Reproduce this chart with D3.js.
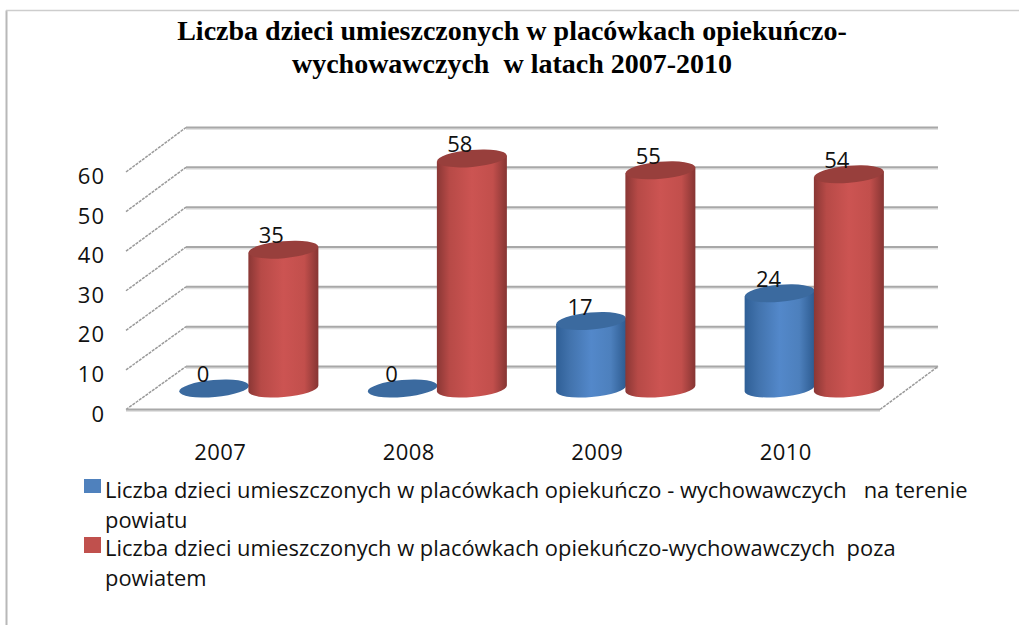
<!DOCTYPE html>
<html><head><meta charset="utf-8">
<style>html,body{margin:0;padding:0;background:#fff;overflow:hidden}svg{display:block}</style>
<script src="https://cdn.jsdelivr.net/npm/d3@7"></script></head>
<body><svg id="c" width="1019" height="625"></svg>
<script>
const categories = ["2007","2008","2009","2010"];
const inside = [0,0,17,24];
const outside = [35,58,55,54];
const yTicks = [0,10,20,30,40,50,60];
const titleLines = ["Liczba dzieci umieszczonych w placówkach opiekuńczo-","wychowawczych  w latach 2007-2010"];
const legendLines = [["Liczba dzieci umieszczonych w placówkach opiekuńczo - wychowawczych   na terenie","powiatu"],["Liczba dzieci umieszczonych w placówkach opiekuńczo-wychowawczych  poza","powiatem"]];

const svg = d3.select("#c");
const defs = svg.append("defs");
function grad(id, stops){
  const g = defs.append("linearGradient").attr("id",id).attr("x1",0).attr("x2",1).attr("y1",0).attr("y2",0);
  stops.forEach(s=>g.append("stop").attr("offset",s[0]).attr("stop-color",s[1]));
}
grad("gb",[[0,"#2f5f96"],[0.2,"#4273ad"],[0.5,"#5388ca"],[0.78,"#4d80bd"],[1,"#2d5b90"]]);
grad("gr",[[0,"#8a3735"],[0.18,"#b74a47"],[0.5,"#cc5452"],[0.8,"#c24f4c"],[1,"#863533"]]);
const font = "'Open Sans',sans-serif";

// frame
svg.append("path").attr("d","M6.5,625V10.5").attr("fill","none").attr("stroke","#b8b8b8").attr("stroke-width",2);
svg.append("path").attr("d","M6,10.5H1019").attr("fill","none").attr("stroke","#cdcdcd").attr("stroke-width",1.6);

// title
svg.append("g").selectAll("text").data(titleLines).join("text")
  .attr("x",512).attr("y",(d,i)=>40+i*33).attr("text-anchor","middle").attr("xml:space","preserve")
  .attr("font-family","'Liberation Serif',serif").attr("font-weight","bold").attr("font-size",28).attr("fill","#000").text(d=>d);

// scales
const yBack = d3.scaleLinear().domain([0,60]).range([366.5,127.5]);
const yFront = d3.scaleLinear().domain([0,60]).range([409.5,172]);
const yBase = d3.scaleLinear().domain([0,60]).range([388.5,150.5]);
const xGroup = d3.scaleBand().domain(categories).range([125,879]);
const xSeries = d3.scaleBand().domain([0,1]).range([0,138.5]);
const groupOffset = 56.5;
const backL = 186, backR = 938, frontL = 126, frontR = 880;

// grid
const grid = svg.append("g");
grid.selectAll("line.s").data(yTicks).join("line").attr("class","s")
  .attr("x1",backL).attr("x2",backR).attr("y1",d=>yBack(d)+1.5).attr("y2",d=>yBack(d)+1.5)
  .attr("stroke","#e2e2e2").attr("stroke-width",2);
grid.selectAll("line.h").data(yTicks).join("line").attr("class","h")
  .attr("x1",backL).attr("x2",backR).attr("y1",d=>yBack(d)).attr("y2",d=>yBack(d))
  .attr("stroke","#a8a8a8").attr("stroke-width",2);
grid.selectAll("line.d").data(yTicks).join("line").attr("class","d")
  .attr("x1",frontL).attr("x2",backL).attr("y1",d=>yFront(d)).attr("y2",d=>yBack(d))
  .attr("stroke","#9a9a9a").attr("stroke-width",1.5).attr("stroke-dasharray","3 1");
grid.append("line").attr("x1",frontL).attr("x2",frontR).attr("y1",yFront(0)+1.5).attr("y2",yFront(0)+1.5).attr("stroke","#e2e2e2").attr("stroke-width",2);
grid.append("line").attr("x1",frontL).attr("x2",frontR).attr("y1",yFront(0)).attr("y2",yFront(0)).attr("stroke","#a8a8a8").attr("stroke-width",2);
grid.append("line").attr("x1",frontR).attr("x2",backR).attr("y1",yFront(0)).attr("y2",yBack(0)).attr("stroke","#9a9a9a").attr("stroke-width",1.5).attr("stroke-dasharray","3 1");

// y labels
svg.append("g").selectAll("text").data(yTicks).join("text")
  .attr("x",105).attr("y",d=>yFront(d)+12).attr("text-anchor","end")
  .attr("font-family",font).attr("font-size",22).attr("letter-spacing",1).attr("fill","#111").text(d=>d);

// cylinders
const rx = 35, ry = 8.5, tilt = -5;
function cyl(g,cx,v,fill,top){
  const yb = yBase(0), yt = yBase(v);
  if(v>0){
    g.append("path").attr("d",`M${cx-rx},${yb+3}V${yt+3}L${cx+rx},${yt-3}V${yb-3}A${rx},${ry} ${tilt} 0 1 ${cx-rx},${yb+3}Z`).attr("fill",`url(#${fill})`);
  }
  g.append("ellipse").attr("cx",cx).attr("cy",yt).attr("rx",rx).attr("ry",ry)
    .attr("transform",`rotate(${tilt} ${cx} ${yt})`).attr("fill",top);
}
const data = categories.map((c,i)=>({c,a:inside[i],b:outside[i]}));
const bars = svg.append("g");
data.forEach(d=>{
  const x0 = xGroup(d.c)+groupOffset-2;
  const g = bars.append("g");
  cyl(g,x0+xSeries(0)+xSeries.bandwidth()/2,d.a,"gb","#3b6a9f");
  cyl(g,x0+xSeries(1)+xSeries.bandwidth()/2,d.b,"gr","#983f3c");
});
// value labels
const labels = svg.append("g").attr("font-family",font).attr("font-size",22).attr("text-anchor","middle").attr("fill","#111");
data.forEach(d=>{
  const x0 = xGroup(d.c)+groupOffset-2;
  labels.append("text").attr("x",x0+xSeries(0)+xSeries.bandwidth()/2-11).attr("y",yBase(d.a)-6.5).text(d.a);
  labels.append("text").attr("x",x0+xSeries(1)+xSeries.bandwidth()/2-12).attr("y",yBase(d.b)-6.5).text(d.b);
});
// category labels
svg.append("g").selectAll("text").data(categories).join("text")
  .attr("x",d=>xGroup(d)+xGroup.bandwidth()/2+1).attr("y",460).attr("text-anchor","middle")
  .attr("font-family",font).attr("font-size",22).attr("letter-spacing",.4).attr("fill","#111").text(d=>d);
// legend
const colors = ["#4f81bd","#c0504d"];
const lg = svg.append("g");
legendLines.forEach((lines,i)=>{
  const top = 479+i*58;
  lg.append("rect").attr("x",84).attr("y",top).attr("width",17).attr("height",i?16:14).attr("fill",colors[i]);
  lines.forEach((t,j)=>lg.append("text").attr("x",105).attr("y",top+19+j*30)
    .attr("font-family",font).attr("font-size",21.9).attr("fill","#111").attr("xml:space","preserve").text(t));
});
</script></body></html>
